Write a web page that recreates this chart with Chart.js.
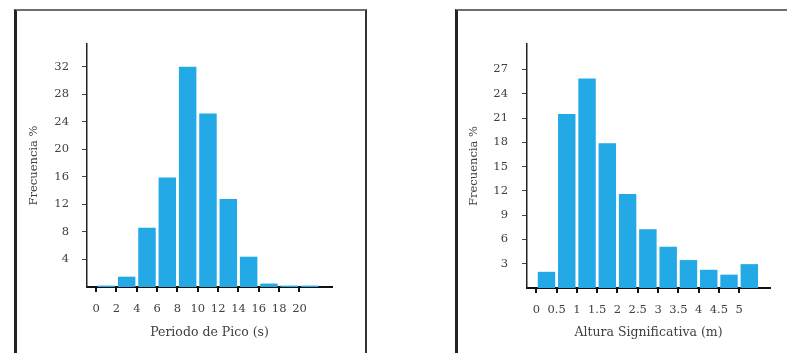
<!DOCTYPE html>
<html>
<head>
<meta charset="utf-8">
<script src="https://cdn.jsdelivr.net/npm/chart.js@4/dist/chart.umd.min.js"></script>
<style>
  html, body { margin: 0; padding: 0; background: #fff; }
  body { width: 787px; height: 353px; position: relative; overflow: hidden; }
  .frame { position: absolute; box-sizing: border-box; }
  #frameA { left: 14px; top: 9px; width: 353px; height: 400px;
            border-left: 3px solid #222; border-top: 2px solid #6e6e6e; border-right: 2px solid #333; }
  #frameB { left: 455px; top: 9px; width: 400px; height: 400px;
            border-left: 3px solid #222; border-top: 2px solid #6e6e6e; }
  canvas { position: absolute; top: 0; }
  #periodo { left: 0; }
  #altura { left: 440px; }
</style>
</head>
<body>
<div class="frame" id="frameA"></div>
<div class="frame" id="frameB"></div>
<canvas id="periodo" width="370" height="353"></canvas>
<canvas id="altura" width="347" height="353"></canvas>
<script>
// Peak period histogram: 2 s bins from 0 to 22 s
const periodBinCenters = [1, 3, 5, 7, 9, 11, 13, 15, 17, 19, 21];
const periodFreq = [0.2, 1.5, 8.6, 15.9, 32.0, 25.2, 12.8, 4.4, 0.5, 0.2, 0.2];
const periodXTicks = [0, 2, 4, 6, 8, 10, 12, 14, 16, 18, 20];
const periodYTicks = [4, 8, 12, 16, 20, 24, 28, 32];

// Significant wave height histogram: 0.5 m bins from 0 to 5.5 m
const heightBinCenters = [0.25, 0.75, 1.25, 1.75, 2.25, 2.75, 3.25, 3.75, 4.25, 4.75, 5.25];
const heightFreq = [2.0, 21.5, 25.9, 17.9, 11.6, 7.25, 5.1, 3.45, 2.25, 1.65, 2.95];
const heightXTicks = [0, 0.5, 1, 1.5, 2, 2.5, 3, 3.5, 4, 4.5, 5];
const heightYTicks = [3, 6, 9, 12, 15, 18, 21, 24, 27];

const BAR_COLOR = '#22a9e6';
const SERIF = '"DejaVu Serif", serif';
const TICK_FONT = { family: SERIF, size: 11.5 };
const XTITLE_FONT = { family: SERIF, size: 12.5 };
const YTITLE_FONT = { family: SERIF, size: 11.5 };
const TEXT = '#404040';

function histogram(canvasId, centers, values, xTicks, yTicks, cfg) {
  return new Chart(document.getElementById(canvasId), {
    type: 'bar',
    data: {
      datasets: [{
        data: centers.map((c, i) => ({ x: c, y: values[i] })),
        backgroundColor: BAR_COLOR,
        borderWidth: 0,
        categoryPercentage: 1,
        barPercentage: 0.86
      }]
    },
    options: {
      responsive: false,
      animation: false,
      devicePixelRatio: 1,
      layout: { padding: { top: 44, right: cfg.padRight, left: 0, bottom: 0 } },
      plugins: { legend: { display: false }, tooltip: { enabled: false } },
      scales: {
        x: {
          type: 'linear',
          min: cfg.xMin, max: cfg.xMax,
          offset: false,
          z: 1,
          afterBuildTicks: s => { s.ticks = xTicks.map(v => ({ value: v })); },
          afterFit: s => { s.height = cfg.xHeight; },
          grid: { offset: false, drawOnChartArea: false, drawTicks: true, tickLength: 5, color: '#111', lineWidth: 2 },
          border: { display: true, color: '#111', width: 2 },
          ticks: { font: TICK_FONT, color: TEXT, padding: 10, maxRotation: 0, autoSkip: false,
                   callback: v => String(v) },
          title: { display: true, text: cfg.xTitle, font: XTITLE_FONT, color: TEXT, padding: { top: 0, bottom: 13 } }
        },
        y: {
          min: 0, max: cfg.yMax,
          afterBuildTicks: s => { s.ticks = yTicks.map(v => ({ value: v })); },
          afterFit: s => { s.width = 87; },
          grid: { drawOnChartArea: false, drawTicks: true, tickLength: 5, color: '#444', lineWidth: 1 },
          border: { display: true, color: '#222', width: 1.5 },
          ticks: { font: TICK_FONT, color: TEXT, padding: cfg.yPad, autoSkip: false },
          title: { display: true, text: 'Frecuencia %', font: YTITLE_FONT, color: TEXT, padding: { top: 27, bottom: 0 } }
        }
      }
    }
  });
}

histogram('periodo', periodBinCenters, periodFreq, periodXTicks, periodYTicks, {
  xMin: -0.9, xMax: 23.2, yMax: 35.3, padRight: 38, xHeight: 66, yPad: 13,
  xTitle: 'Periodo de Pico (s)'
});

histogram('altura', heightBinCenters, heightFreq, heightXTicks, heightYTicks, {
  xMin: -0.23, xMax: 5.76, yMax: 30.15, padRight: 17, xHeight: 65, yPad: 14,
  xTitle: 'Altura Significativa (m)'
});
</script>
</body>
</html>
